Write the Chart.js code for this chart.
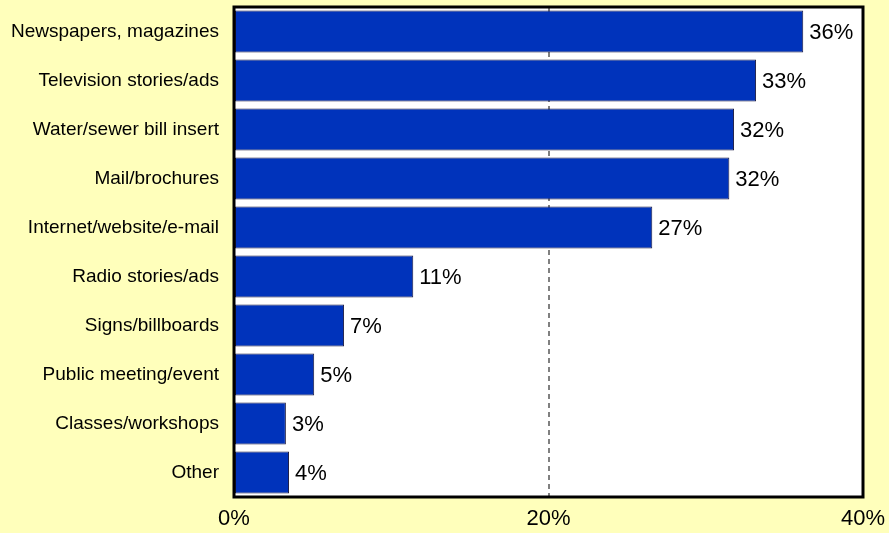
<!DOCTYPE html>
<html>
<head>
<meta charset="utf-8">
<script src="https://cdn.jsdelivr.net/npm/chart.js@4.4.0/dist/chart.umd.min.js"></script>
<style>
  html, body { margin: 0; padding: 0; background: #FFFFBB; }
  #wrap { width: 889px; height: 533px; }
</style>
</head>
<body>
<div id="wrap"><canvas id="sources"></canvas></div>
<script>
// categories, top to bottom
const categories = [
  'Newspapers, magazines',
  'Television stories/ads',
  'Water/sewer bill insert',
  'Mail/brochures',
  'Internet/website/e-mail',
  'Radio stories/ads',
  'Signs/billboards',
  'Public meeting/event',
  'Classes/workshops',
  'Other'
];
// percent
const percents = [36.2, 33.2, 31.8, 31.5, 26.6, 11.4, 7.0, 5.1, 3.3, 3.5];
// printed labels next to the bars
const shownLabels = ['36%', '33%', '32%', '32%', '27%', '11%', '7%', '5%', '3%', '4%'];
const xTicks = [0, 20, 40];

const bgYellow = '#FFFFBB';
const barBlue = '#0033BB';
const barEdge = '#1a1a40';
const fontFam = '"Liberation Sans", Arial, sans-serif';

// yellow page, white plot box with black frame
const frame = {
  id: 'frame',
  beforeDraw(chart) {
    const c = chart.ctx, a = chart.chartArea;
    c.save();
    c.fillStyle = bgYellow;
    c.fillRect(0, 0, chart.width, chart.height);
    c.fillStyle = '#ffffff';
    c.fillRect(a.left, a.top, a.right - a.left, a.bottom - a.top);
    c.restore();
  },
  afterDraw(chart) {
    const c = chart.ctx, a = chart.chartArea;
    c.save();
    c.strokeStyle = '#000000';
    c.lineWidth = 3;
    c.strokeRect(a.left, a.top, a.right - a.left, a.bottom - a.top);
    c.restore();
  }
};

// percent text to the right of each bar
const barText = {
  id: 'barText',
  afterDatasetsDraw(chart) {
    const c = chart.ctx;
    const meta = chart.getDatasetMeta(0);
    c.save();
    c.font = '22px ' + fontFam;
    c.fillStyle = '#000000';
    c.textAlign = 'left';
    c.textBaseline = 'middle';
    meta.data.forEach(function (bar, i) {
      c.fillText(shownLabels[i], bar.x + 6, bar.y + 1);
    });
    c.restore();
  }
};

var ctx = document.getElementById('sources');
var myChart = new Chart(ctx, {
  type: 'bar',
  data: {
    labels: categories,
    datasets: [
      {
        data: percents,
        backgroundColor: barBlue,
        borderColor: barEdge,
        borderWidth: 1,
        borderSkipped: false,
        categoryPercentage: 1,
        barPercentage: 0.86
      }
    ]
  },
  options: {
    indexAxis: 'y',
    responsive: true,
    maintainAspectRatio: false,
    animation: false,
    layout: { padding: { top: 7, right: 26, left: 0, bottom: 0 } },
    plugins: {
      legend: { display: false },
      tooltip: { enabled: false }
    },
    scales: {
      x: {
        min: 0,
        max: 40,
        afterBuildTicks: function (scale) {
          scale.ticks = xTicks.map(function (v) { return { value: v }; });
        },
        afterFit: function (scale) {
          scale.height = 36;
          scale.paddingLeft = 0;
          scale.paddingRight = 0;
        },
        grid: {
          drawTicks: false,
          color: function (c) { return c.tick && c.tick.value === 20 ? '#808080' : 'rgba(0,0,0,0)'; },
          lineWidth: 2
        },
        border: { display: false, dash: [5, 4] },
        ticks: {
          color: '#000000',
          padding: 9,
          maxRotation: 0,
          font: { family: fontFam, size: 22 },
          callback: function (v) { return v + '%'; }
        }
      },
      y: {
        afterFit: function (scale) {
          scale.width = 234;
          scale.paddingTop = 0;
          scale.paddingBottom = 0;
        },
        border: { display: false },
        grid: { display: false, drawTicks: false },
        ticks: {
          color: '#000000',
          padding: 15,
          font: { family: fontFam, size: 19 }
        }
      }
    }
  },
  plugins: [frame, barText]
});
</script>
</body>
</html>
